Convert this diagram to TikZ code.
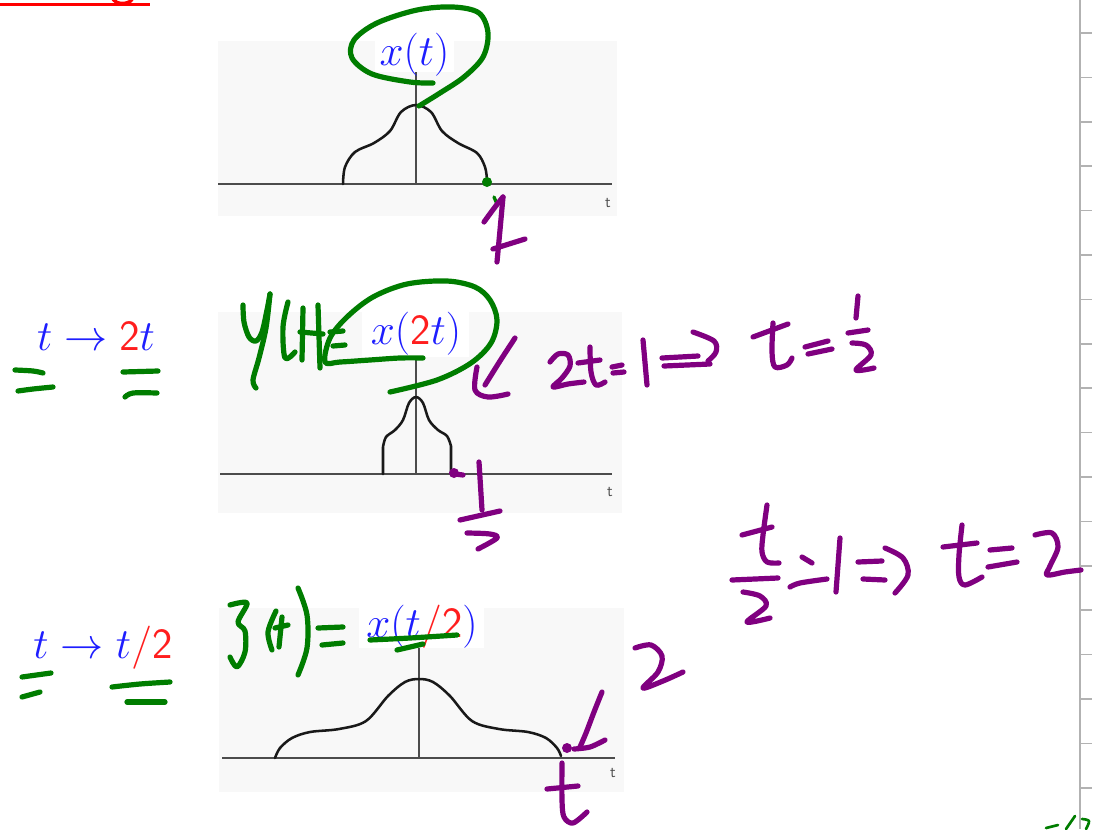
\documentclass[tikz,border=0pt]{standalone}
\usepackage{xcolor}
\definecolor{hgreen}{RGB}{0,125,0}
\definecolor{hpurple}{RGB}{128,0,128}
\definecolor{tblue}{RGB}{30,30,255}
\definecolor{tred}{RGB}{255,30,30}
\definecolor{panelbg}{RGB}{248,248,248}
\definecolor{rulergray}{RGB}{178,178,178}
\tikzset{
  ink/.style={line width=3.9pt, line cap=round, line join=round},
  gstroke/.style={ink, draw=hgreen},
  pstroke/.style={ink, draw=hpurple},
  signal/.style={line width=1.9pt, draw=black!90, line cap=round},
  axisline/.style={line width=1.1pt, draw=black!70},
  panel/.style={fill=panelbg, draw=none},
  labelbox/.style={fill=white, draw=none},
  mlabel/.style={font=\fontsize{20.74}{25}\selectfont, scale=1.56, inner sep=0pt, anchor=base, text=tblue},
  tlab/.style={font=\fontsize{12}{14}\selectfont\sffamily, text=black!70, inner sep=0pt},
  sm/.style={smooth, tension=0.55},
}
\begin{document}
\begin{tikzpicture}[x=0.75pt, y=-0.75pt]
\useasboundingbox (0,0) rectangle (1096,829);
\fill[white] (0,0) rectangle (1096,829);

% cut-off title underline
\draw[line width=2.6pt, draw=red] (0,4.5) -- (150,4.5);
\draw[line width=2.6pt, draw=red] plot[sm] coordinates {(113,-1) (117,2.5) (124,3.5) (130,1.5) (132,-1)};

% ruler on the right
\draw[line width=1.6pt, draw=rulergray] (1080,0) -- (1080,829);
\foreach \k in {0,...,17} {
  \draw[line width=1.2pt, draw=rulergray] (1080,33+44.4*\k) -- (1092,33+44.4*\k);
}

% ---------------- panel 1 ----------------
\fill[panel] (218,41) rectangle (617,216);
\fill[labelbox] (375,37) rectangle (454,72);
\draw[axisline] (218,184) -- (612,184);
\draw[axisline] (416,72) -- (416,184);
\draw[signal] plot[sm] coordinates {(343,184) (345,167) (355,152) (374,143) (390,131) (401,112) (416,105) (431,112) (442,131) (458,143) (477,153) (485,167) (487,180)};
\node[mlabel] (lx) at (414.5,65.5) {$x(t)$};
\node[tlab] (t1) at (608,203) {t};

% ---------------- panel 2 ----------------
\fill[panel] (218,312) rectangle (622,513);
\fill[labelbox] (362,312) rectangle (469,357);
\draw[axisline] (220,474) -- (612,474);
\draw[axisline] (416,357) -- (416,474);
\draw[signal] (383,474) -- (383,447) plot[sm] coordinates {(383,447) (386,437) (395,430) (403,420) (409,403) (416,397) (423,403) (429,420) (438,430) (447,436) (451,446)} -- (451,474);
\node[mlabel] (lx2) at (416,344.5) {$x(\textcolor{tred}{\mathsf{2}}t)$};
\node[tlab] (t2) at (610,492) {t};

% ---------------- panel 3 ----------------
\fill[panel] (219,608) rectangle (624,792);
\fill[labelbox] (359,605) rectangle (484,648);
\draw[axisline] (222,758) -- (615,758);
\draw[axisline] (419,648) -- (419,758);
\draw[signal] plot[sm] coordinates {(275,758) (280,748) (292,738) (310,732) (339,729) (366,721) (388,696) (405,682) (419,679) (433,682) (450,696) (472,721) (499,729) (528,732) (546,738) (557,748) (561,756)};
\node[mlabel] (lx3) at (422,637.5) {$x(t\textcolor{tred}{/\mathsf{2}})$};
\node[tlab] (t3) at (613,773) {t};

% ---------------- left substitution labels ----------------
\node[mlabel] (s1) at (96,350) {$t\to\textcolor{tred}{\mathsf{2}}t$};
\node[mlabel] (s2) at (103,658) {$t\to t\textcolor{tred}{/\mathsf{2}}$};

% ================= green handwriting =================
% loop around x(t)
\draw[gstroke] plot[sm] coordinates {(433,83) (410,82) (372,74) (352,58) (354,40) (377,23) (417,10) (453,7) (479,13) (488,33) (483,57) (464,77) (440,93) (419,106)};
\fill[hgreen] (487,182) circle (5);
\draw[gstroke, line width=2.5pt] (494,197) -- (497,204);
\draw[gstroke, line width=2.5pt] (492,249) -- (499,247);

% equal signs under t -> 2t
\draw[gstroke] plot[sm] coordinates {(15,370) (33,371) (43,373)};
\draw[gstroke] plot[sm] coordinates {(18,391) (33,389) (53,387)};
\draw[gstroke] (123,372) -- (158,371);
\draw[gstroke] plot[sm] coordinates {(125,397) (133,393) (157,393)};

% y(t)=
\draw[gstroke] plot[sm] coordinates {(243,305) (244,322) (249,337) (256,341) (262,332) (267,310) (270,294)};
\draw[gstroke] plot[sm] coordinates {(270,294) (266,328) (259,358) (253,380) (256,388)};
\draw[gstroke] plot[sm] coordinates {(288,302) (283,327) (285,358) (295,352)};
\draw[gstroke] (303,308) -- (302,360);
\draw[gstroke] (318,305) -- (320,368);
\draw[gstroke] (300,332) -- (323,334);
\draw[gstroke] (330,332) -- (343,331);
\draw[gstroke] (333,346) -- (345,345);
% loop around x(2t)
\draw[gstroke] plot[sm] coordinates {(423,358) (400,358) (370,360) (340,362) (325,362) (330,338) (347,317) (373,297) (407,284) (447,281) (475,287) (490,300) (497,320) (491,343) (471,363) (437,380) (390,392)};

% equal signs under t -> t/2
\draw[gstroke] (22,677) -- (51,673);
\draw[gstroke] (22,697) -- (40,692);
\draw[gstroke] plot[sm] coordinates {(112,687) (140,684) (170,682)};
\draw[gstroke] (127,702) -- (165,702);

% z(t)=
\draw[gstroke] plot[sm] coordinates {(230,605) (247,603) (238,622) (245,631) (245,652) (237,667) (230,657)};
\draw[gstroke] plot[sm] coordinates {(276,611) (268,632) (272,650)};
\draw[gstroke] (282,617) -- (279,647);
\draw[gstroke] (275,628) -- (288,625);
\draw[gstroke] plot[sm] coordinates {(298,588) (307,615) (307,648) (298,675)};
\draw[gstroke] (318,628) -- (343,627);
\draw[gstroke] (322,645) -- (343,643);
\draw[gstroke] plot[sm] coordinates {(370,640) (410,638) (457,635)};
\draw[gstroke] (397,650) -- (423,644);

% bottom-right green fragment
\draw[gstroke, line width=2pt] (1046,828) -- (1058,825);
\draw[gstroke, line width=2pt] (1066,829) -- (1075,816);
\draw[gstroke, line width=2pt] plot[sm] coordinates {(1082,819) (1089,821) (1086,829)};

% ================= purple handwriting =================
% "1" under panel 1
\draw[pstroke] plot[sm] coordinates {(484,222) (495,207) (503,197)};
\draw[pstroke] plot[sm] coordinates {(503,197) (500,230) (497,262)};
\draw[pstroke] (493,249) -- (525,239);

% arrow and 2t=1 => t=1/2
\draw[pstroke] plot[sm] coordinates {(515,338) (500,361) (485,385)};
\draw[pstroke] plot[sm] coordinates {(477,367) (475,390) (488,397) (508,394)};
\draw[pstroke] plot[sm] coordinates {(550,362) (558,354) (568,355) (570,366) (562,378) (553,387) (568,384) (584,382)};
\draw[pstroke] plot[sm] coordinates {(590,347) (591,372) (596,385) (605,382)};
\draw[pstroke] (578,363) -- (600,360);
\draw[pstroke] (612,367) -- (622,365);
\draw[pstroke] (613,373) -- (624,372);
\draw[pstroke] (643,340) -- (647,385);
\draw[pstroke] (662,358) -- (698,356);
\draw[pstroke] (664,366) -- (710,364);
\draw[pstroke] plot[sm] coordinates {(693,332) (714,341) (716,352) (708,361)};
\draw[pstroke] plot[sm] coordinates {(773,323) (772,352) (775,367) (787,365) (792,358)};
\draw[pstroke] (753,337) -- (788,324);
\draw[pstroke] (805,347) -- (828,341);
\draw[pstroke] (808,354) -- (832,349);
\draw[pstroke] (858,296) -- (856,318);
\draw[pstroke] (848,333) -- (868,330);
\draw[pstroke] plot[sm] coordinates {(852,343) (866,345) (871,355) (856,370) (874,368)};

% 1/2 under panel 2
\fill[hpurple] (454,473) circle (5);
\draw[pstroke] (455,474) -- (463,475);
\draw[pstroke] (479,462) -- (482,510);
\draw[pstroke] (460,520) -- (500,511);
\draw[pstroke] plot[sm] coordinates {(467,533) (490,534) (497,538) (478,549)};

% t/2 = 1 => t = 2
\draw[pstroke] plot[sm] coordinates {(767,505) (763,535) (762,552) (767,562) (779,563)};
\draw[pstroke] (742,535) -- (772,527);
\draw[pstroke] (732,580) -- (778,578);
\draw[pstroke] plot[sm] coordinates {(743,592) (760,596) (766,606) (747,622) (770,618)};
\draw[pstroke] (802,557) -- (812,563);
\draw[pstroke] plot[sm] coordinates {(790,587) (800,583) (827,579)};
\draw[pstroke] (840,538) -- (836,592);
\draw[pstroke] (858,562) -- (882,561);
\draw[pstroke] (863,579) -- (885,580);
\draw[pstroke] plot[sm] coordinates {(885,548) (903,558) (908,575) (895,593)};
\draw[pstroke] plot[sm] coordinates {(962,525) (959,555) (959,577) (965,585) (982,577)};
\draw[pstroke] (943,547) -- (977,543);
\draw[pstroke] (990,550) -- (1012,548);
\draw[pstroke] (988,567) -- (1017,562);
\draw[pstroke] plot[sm] coordinates {(1035,535) (1052,533) (1058,547) (1050,566) (1047,575) (1065,572) (1081,570)};

% 2, mark and t near panel 3
\draw[pstroke] plot[sm] coordinates {(635,648) (651,645) (662,656) (658,672) (643,688) (663,681) (683,672)};
\fill[hpurple] (567,748) circle (5);
\draw[pstroke] plot[sm] coordinates {(602,692) (594,712) (586,733) (580,747)};
\draw[pstroke] plot[sm] coordinates {(574,749) (590,747) (605,740)};
\draw[pstroke] plot[sm] coordinates {(562,763) (562,800) (564,817) (573,823) (587,812)};
\draw[pstroke] (547,789) -- (578,786);
\end{tikzpicture}
\end{document}
